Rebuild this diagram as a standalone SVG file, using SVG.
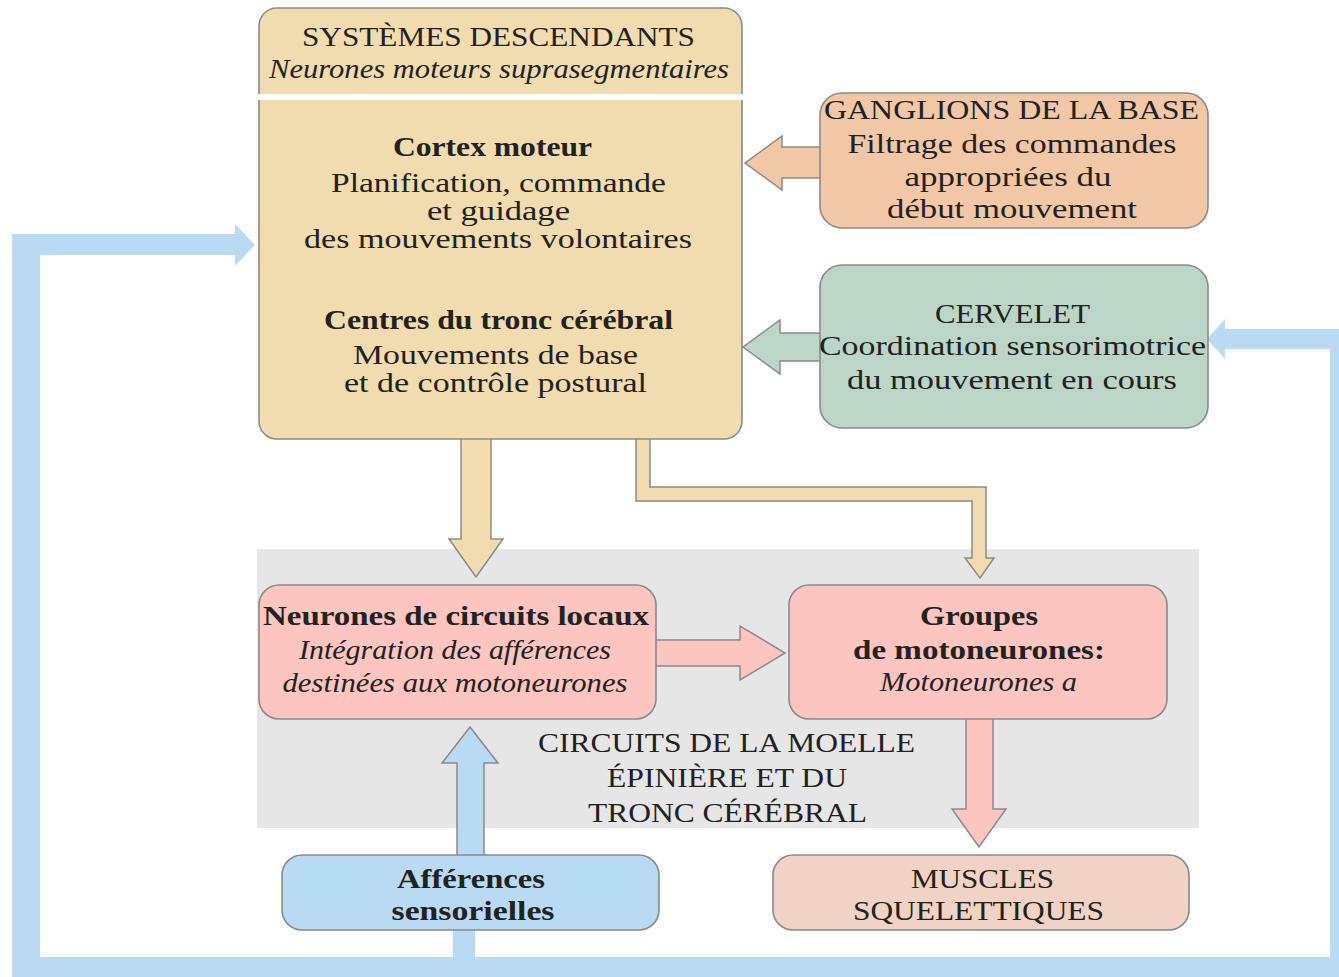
<svg xmlns="http://www.w3.org/2000/svg" width="1339" height="977" viewBox="0 0 1339 977">
<style>
.box{stroke:#8a8a8a;stroke-width:1.6}
.arr{stroke:#8a8a8a;stroke-width:1.5;stroke-linejoin:miter}
.tan{fill:#F0DCAF}
.peach{fill:#F2C7A6}
.green{fill:#BBD6C6}
.pink{fill:#FCC5BF}
.blue{fill:#B8DAF2}
.muscle{fill:#F0D3C4}
text{font-family:"Liberation Serif","Times New Roman",serif;font-size:28px;fill:#222;text-anchor:middle}
.b{font-weight:bold}
.i{font-style:italic}
</style>
<rect id="spinal-bg" x="257" y="549" width="942" height="279" fill="#E6E6E6"/>
<g id="connectors">
  <g id="feedback-loop" fill="#B8DAF2">
    <rect x="12" y="234" width="28" height="743"/>
    <rect x="12" y="234" width="223" height="21"/>
    <polygon points="235,224 255,245 235,266"/>
    <rect x="12" y="957" width="1327" height="20"/>
    <rect x="1330" y="329" width="9" height="648"/>
    <rect x="1225" y="329" width="114" height="20"/>
    <polygon points="1225,319 1207,339 1225,359"/>
    <rect x="453" y="929" width="22" height="29"/>
  </g>
  <polygon class="arr tan" points="461,438 461,539 449,539 476,577 503,539 491,539 491,438"/>
  <polygon class="arr tan" points="636,438 636,501 972,501 972,558 965,558 980,578 994,558 986,558 986,487 650,487 650,438"/>
  <polygon class="arr peach" points="822,147 782,147 782,136 745,163 782,190 782,178 822,178"/>
  <polygon class="arr green" points="822,333 780,333 780,320 743,347 780,374 780,361 822,361"/>
  <polygon class="arr pink" points="654,640 740,640 740,626 785,653 740,680 740,666 654,666"/>
  <polygon class="arr pink" points="966,717 966,809 952,809 979,847 1006,809 993,809 993,717"/>
  <polygon class="arr blue" points="457,856 457,763 442,763 470,727 498,763 484,763 484,856"/>
</g>
<g id="systemes-descendants">
  <rect class="box tan" x="259" y="8" width="483" height="431" rx="18"/>
  <rect x="257" y="94" width="487" height="6" fill="#fff"/>
  <text x="498.5" y="46" textLength="393" lengthAdjust="spacingAndGlyphs">SYSTÈMES DESCENDANTS</text>
  <text class="i" x="499" y="78" textLength="460" lengthAdjust="spacingAndGlyphs">Neurones moteurs suprasegmentaires</text>
  <text class="b" x="492.5" y="156" textLength="199" lengthAdjust="spacingAndGlyphs">Cortex moteur</text>
  <text x="498.5" y="192" textLength="335" lengthAdjust="spacingAndGlyphs">Planification, commande</text>
  <text x="498.5" y="220" textLength="143" lengthAdjust="spacingAndGlyphs">et guidage</text>
  <text x="498" y="248" textLength="388" lengthAdjust="spacingAndGlyphs">des mouvements volontaires</text>
  <text class="b" x="498.5" y="329" textLength="349" lengthAdjust="spacingAndGlyphs">Centres du tronc cérébral</text>
  <text x="495.5" y="364" textLength="285" lengthAdjust="spacingAndGlyphs">Mouvements de base</text>
  <text x="495.5" y="392" textLength="303" lengthAdjust="spacingAndGlyphs">et de contrôle postural</text>
</g>
<g id="ganglions">
  <rect class="box peach" x="820" y="93" width="388" height="135" rx="22"/>
  <text x="1011.5" y="119" textLength="375" lengthAdjust="spacingAndGlyphs">GANGLIONS DE LA BASE</text>
  <text x="1012" y="153" textLength="329" lengthAdjust="spacingAndGlyphs">Filtrage des commandes</text>
  <text x="1008" y="186" textLength="207" lengthAdjust="spacingAndGlyphs">appropriées du</text>
  <text x="1012" y="218" textLength="250" lengthAdjust="spacingAndGlyphs">début mouvement</text>
</g>
<g id="cervelet">
  <rect class="box green" x="820" y="265" width="388" height="163" rx="22"/>
  <text x="1012.5" y="323" textLength="155" lengthAdjust="spacingAndGlyphs">CERVELET</text>
  <text x="1012.5" y="355" textLength="387" lengthAdjust="spacingAndGlyphs">Coordination sensorimotrice</text>
  <text x="1012" y="389" textLength="330" lengthAdjust="spacingAndGlyphs">du mouvement en cours</text>
</g>
<g id="circuits-locaux">
  <rect class="box pink" x="259" y="585" width="397" height="134" rx="20"/>
  <text class="b" x="456" y="625" textLength="386" lengthAdjust="spacingAndGlyphs">Neurones de circuits locaux</text>
  <text class="i" x="455" y="659" textLength="312" lengthAdjust="spacingAndGlyphs">Intégration des afférences</text>
  <text class="i" x="455" y="692" textLength="345" lengthAdjust="spacingAndGlyphs">destinées aux motoneurones</text>
</g>
<g id="motoneurones">
  <rect class="box pink" x="789" y="585" width="378" height="134" rx="20"/>
  <text class="b" x="979" y="625" textLength="118" lengthAdjust="spacingAndGlyphs">Groupes</text>
  <text class="b" x="979" y="659" textLength="252" lengthAdjust="spacingAndGlyphs">de motoneurones:</text>
  <text class="i" x="978.5" y="691" textLength="197" lengthAdjust="spacingAndGlyphs">Motoneurones a</text>
</g>
<g id="circuits-label">
  <text x="726.5" y="752" textLength="377" lengthAdjust="spacingAndGlyphs">CIRCUITS DE LA MOELLE</text>
  <text x="727" y="787" textLength="240" lengthAdjust="spacingAndGlyphs">ÉPINIÈRE ET DU</text>
  <text x="727.5" y="822" textLength="279" lengthAdjust="spacingAndGlyphs">TRONC CÉRÉBRAL</text>
</g>
<g id="afferences">
  <rect class="box blue" x="282" y="855" width="377" height="75" rx="20"/>
  <text class="b" x="471" y="888" textLength="148" lengthAdjust="spacingAndGlyphs">Afférences</text>
  <text class="b" x="473" y="920" textLength="163" lengthAdjust="spacingAndGlyphs">sensorielles</text>
</g>
<g id="muscles">
  <rect class="box muscle" x="773" y="855" width="416" height="75" rx="20"/>
  <text x="982.5" y="888" textLength="143" lengthAdjust="spacingAndGlyphs">MUSCLES</text>
  <text x="978.5" y="920" textLength="251" lengthAdjust="spacingAndGlyphs">SQUELETTIQUES</text>
</g>
</svg>
